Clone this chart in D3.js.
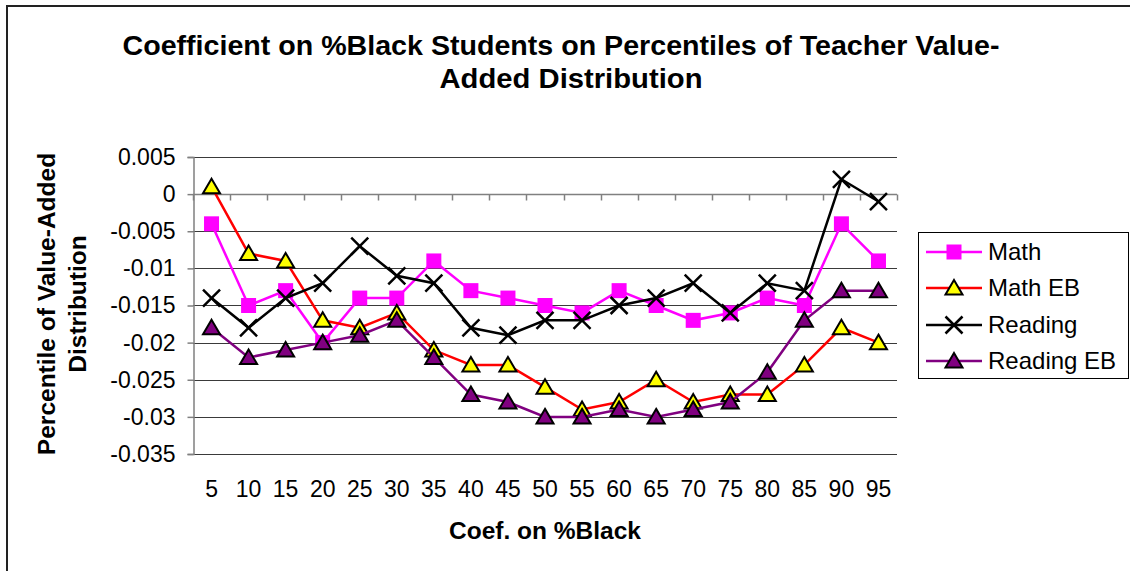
<!DOCTYPE html>
<html>
<head>
<meta charset="utf-8">
<script src="https://cdn.jsdelivr.net/npm/d3@7"></script>
<style>
  html, body { margin: 0; padding: 0; background: #fff; }
  svg { display: block; font-family: "Liberation Sans", Arial, sans-serif; }
</style>
</head>
<body>
<svg id="chart" width="1130" height="571"></svg>
<script>
// ---- data ----
const categories = ["5","10","15","20","25","30","35","40","45","50","55","60","65","70","75","80","85","90","95"];
const seriesNames = ["Math", "Math EB", "Reading", "Reading EB"];
const mathValues      = [-0.004,-0.015,-0.013,-0.020,-0.014,-0.014,-0.009,-0.013,-0.014,-0.015,-0.016,-0.013,-0.015,-0.017,-0.016,-0.014,-0.015,-0.004,-0.009];
const mathEBValues    = [ 0.001,-0.008,-0.009,-0.017,-0.018,-0.016,-0.021,-0.023,-0.023,-0.026,-0.029,-0.028,-0.025,-0.028,-0.027,-0.027,-0.023,-0.018,-0.020];
const readingValues   = [-0.014,-0.018,-0.014,-0.012,-0.007,-0.011,-0.012,-0.018,-0.019,-0.017,-0.017,-0.015,-0.014,-0.012,-0.016,-0.012,-0.013, 0.002,-0.001];
const readingEBValues = [-0.018,-0.022,-0.021,-0.020,-0.019,-0.017,-0.022,-0.027,-0.028,-0.030,-0.030,-0.029,-0.030,-0.029,-0.028,-0.024,-0.017,-0.013,-0.013];
const yTickValues = [0.005, 0, -0.005, -0.01, -0.015, -0.02, -0.025, -0.03, -0.035];
const yTickLabels = ["0.005","0","-0.005","-0.01","-0.015","-0.02","-0.025","-0.03","-0.035"];

const series = [
  {name: seriesNames[0], values: mathValues,      line: "#FF00FF", marker: "square",   fill: "#FF00FF"},
  {name: seriesNames[1], values: mathEBValues,    line: "#FF0000", marker: "triangle", fill: "#FFFF00"},
  {name: seriesNames[2], values: readingValues,   line: "#000000", marker: "x",        fill: "none"},
  {name: seriesNames[3], values: readingEBValues, line: "#800080", marker: "triangle", fill: "#800080"}
];

const svg = d3.select("#chart");

// outer chart border (left/top visible)
svg.append("rect").attr("x", 7).attr("y", 6).attr("width", 1200).attr("height", 700)
  .attr("fill", "none").attr("stroke", "#222").attr("stroke-width", 2);

// title
const t1 = svg.append("text").attr("text-anchor", "middle").attr("x", 561).attr("y", 55)
  .attr("font-weight", "bold").attr("font-size", 27).attr("fill", "#000")
  .attr("textLength", 877).attr("lengthAdjust", "spacingAndGlyphs")
  .text("Coefficient on %Black Students on Percentiles of Teacher Value-");
const t2 = svg.append("text").attr("text-anchor", "middle").attr("x", 571).attr("y", 88)
  .attr("font-weight", "bold").attr("font-size", 27).attr("fill", "#000")
  .attr("textLength", 263).attr("lengthAdjust", "spacingAndGlyphs")
  .text("Added Distribution");

// scales
const plotL = 193, plotR = 897, plotT = 157, plotB = 454;
const x = d3.scaleBand().domain(categories).range([plotL, plotR]).paddingInner(0).paddingOuter(0);
const y = d3.scaleLinear().domain([-0.035, 0.005]).range([plotB, plotT]);
const cx = c => x(c) + x.bandwidth() / 2;

// gridlines
svg.append("g").selectAll("line").data(yTickValues).join("line")
  .attr("x1", plotL).attr("x2", plotR)
  .attr("y1", d => Math.round(y(d)) + 0.5).attr("y2", d => Math.round(y(d)) + 0.5)
  .attr("stroke", "#3a3a3a").attr("stroke-width", 1);

// y axis
const yAxis = d3.axisLeft(y).tickValues(yTickValues).tickSize(6).tickPadding(12)
  .tickFormat((d, i) => yTickLabels[i]);
const gy = svg.append("g").attr("transform", `translate(${plotL + 0.5},0)`).call(yAxis);
gy.select(".domain").attr("stroke", "#808080").attr("stroke-width", 1.5);
gy.selectAll(".tick line").attr("stroke", "#808080").attr("stroke-width", 1.5);
gy.selectAll(".tick text").attr("font-size", 23).attr("fill", "#000")
  .attr("font-family", "Liberation Sans, Arial, sans-serif");

// x axis line at zero with boundary ticks
const zeroY = Math.round(y(0)) + 0.5;
svg.append("line").attr("x1", plotL).attr("x2", plotR).attr("y1", zeroY).attr("y2", zeroY)
  .attr("stroke", "#808080").attr("stroke-width", 1.5);
const boundaries = categories.map(c => x(c)).concat([plotR]);
svg.append("g").selectAll("line").data(boundaries).join("line")
  .attr("x1", d => Math.round(d) + 0.5).attr("x2", d => Math.round(d) + 0.5)
  .attr("y1", zeroY).attr("y2", zeroY + 6)
  .attr("stroke", "#808080").attr("stroke-width", 1.5);

// x tick labels (low position)
svg.append("g").selectAll("text").data(categories).join("text")
  .attr("x", d => cx(d)).attr("y", 497).attr("text-anchor", "middle")
  .attr("font-size", 23).attr("fill", "#000").text(d => d);

// axis titles
svg.append("text").attr("x", 545).attr("y", 539).attr("text-anchor", "middle")
  .attr("font-weight", "bold").attr("font-size", 24.5).text("Coef. on %Black");

const yt = svg.append("text").attr("transform", "translate(0,304) rotate(-90)")
  .attr("text-anchor", "middle").attr("font-weight", "bold").attr("font-size", 24.5);
yt.append("tspan").attr("x", 0).attr("y", 55).text("Percentile of Value-Added");
yt.append("tspan").attr("x", 0).attr("y", 86).text("Distribution");

// marker drawing
function drawMarker(g, type, s) {
  if (type === "square") {
    g.append("rect").attr("x", -7.5).attr("y", -7.5).attr("width", 15).attr("height", 15)
      .attr("fill", s.fill);
  } else if (type === "triangle") {
    g.append("path").attr("d", "M0,-8 L8.5,6.5 L-8.5,6.5 Z")
      .attr("fill", s.fill).attr("stroke", "#000").attr("stroke-width", 2).attr("stroke-linejoin", "miter");
  } else if (type === "x") {
    g.append("path").attr("d", "M-8.5,-8.5 L8.5,8.5 M-8.5,8.5 L8.5,-8.5")
      .attr("stroke", "#000").attr("stroke-width", 2.5).attr("fill", "none");
  }
}

// series
const line = d3.line().x((d, i) => cx(categories[i])).y(d => y(d));
series.forEach(s => {
  const g = svg.append("g");
  g.append("path").datum(s.values).attr("d", line)
    .attr("fill", "none").attr("stroke", s.line).attr("stroke-width", 2.5);
  s.values.forEach((v, i) => {
    const mg = g.append("g").attr("transform", `translate(${cx(categories[i])},${y(v)})`);
    drawMarker(mg, s.marker, s);
  });
});

// legend
const lg = svg.append("g");
lg.append("rect").attr("x", 918.5).attr("y", 232.5).attr("width", 210).attr("height", 146)
  .attr("fill", "#fff").attr("stroke", "#000").attr("stroke-width", 1);
const legendY = [252, 288, 325, 361];
series.forEach((s, i) => {
  const ly = legendY[i];
  lg.append("line").attr("x1", 926).attr("x2", 982).attr("y1", ly).attr("y2", ly)
    .attr("stroke", s.line).attr("stroke-width", 2.5);
  drawMarker(lg.append("g").attr("transform", `translate(954,${ly})`), s.marker, s);
  lg.append("text").attr("x", 988).attr("y", ly + 8).attr("font-size", 24).text(s.name);
});
</script>
</body>
</html>
